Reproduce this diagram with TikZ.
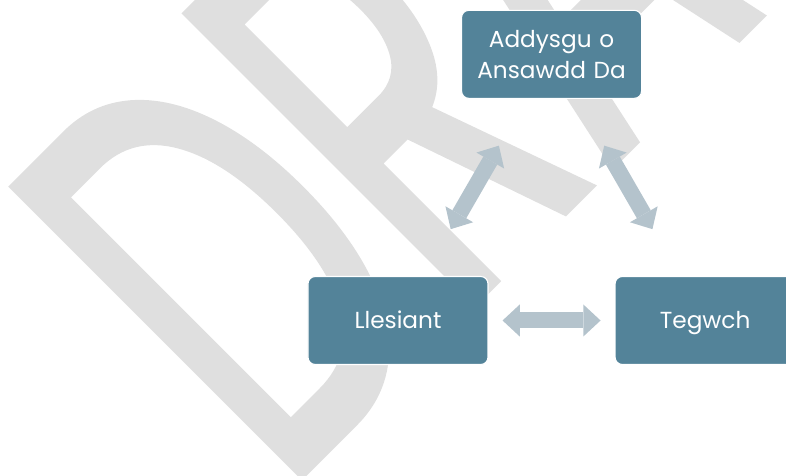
\documentclass[tikz,border=0pt]{standalone}
\usepackage{fontspec}
\setmainfont{Poppins}
\newfontfamily\markfont[FakeBold=1.5]{Poppins}
\usetikzlibrary{arrows.meta,positioning}
\definecolor{boxblue}{RGB}{83,131,153}
\definecolor{arrowgray}{RGB}{180,195,204}
\definecolor{markgray}{RGB}{223,223,223}

\begin{document}
\begin{tikzpicture}
    [
    node distance = 3.15cm,
    box/.style = {draw=white, line width=0.8pt, fill=boxblue, rectangle, minimum width=4.5cm, minimum height=2.2cm, text width=4.2cm, align=center, rounded corners=0.18cm, text=white, font=\fontsize{16.5}{22}\selectfont},
    oneline/.style = {text height=11.6pt, text depth=0pt},
    link/.style = {{Triangle[length=0.43cm, width=0.8cm, line width=0pt]}-{Triangle[length=0.43cm, width=0.8cm, line width=0pt]}, line width=0.4cm, draw=arrowgray},
    ]

% Page
    \useasboundingbox (-9.95,-3.8875) rectangle (9.7,8.0125);

% Watermark
    \node[rotate=45, anchor=base west, inner sep=0pt, text=markgray, font=\markfont\fontsize{415}{415}\selectfont] (draft) at (-2.91,-4.35) {\scalebox{0.594}[1]{DRAFT}};

% Nodes
    \node[box, oneline] (llesiant) {Llesiant};
    \node[box, oneline, right=of llesiant] (tegwch) {Tegwch};
    \path (llesiant) -- (tegwch) coordinate[midway] (mid);
    \node[box, above=5.54cm of mid] (ansawdd) {Addysgu o\\Ansawdd Da};

% Arrows
    \draw[link, shorten <=1.35cm, shorten >=1.35cm] (ansawdd) -- (llesiant);
    \draw[link, shorten <=1.35cm, shorten >=1.35cm] (ansawdd) -- (tegwch);
    \draw[link, shorten <=0.35cm, shorten >=0.35cm] (llesiant) -- (tegwch);

\end{tikzpicture}
\end{document}
